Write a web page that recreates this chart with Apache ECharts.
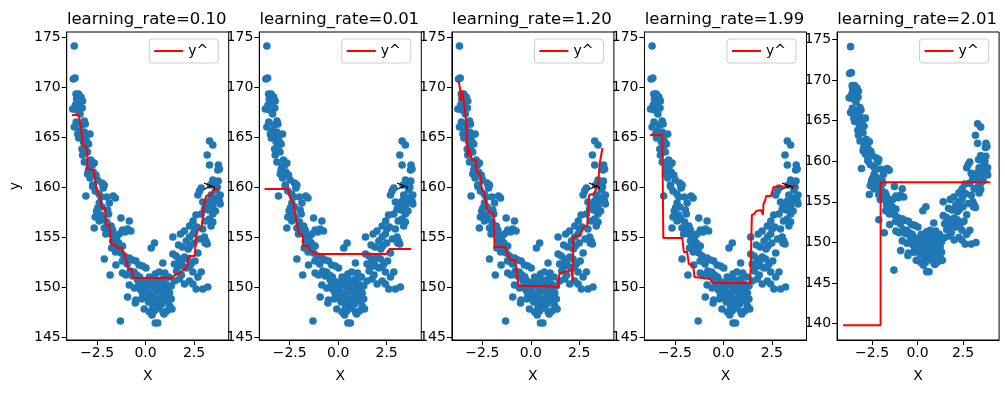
<!DOCTYPE html>
<html>
<head>
<meta charset="utf-8">
<script src="https://cdn.jsdelivr.net/npm/echarts@6/dist/echarts.min.js"></script>
<style>html,body{margin:0;padding:0;background:#fff}#c{width:1005px;height:393px}</style>
</head>
<body>
<div id="c"></div>
<script>
// ---- data ----
const pointX = [-3.68,-3.73,-3.64,-3.59,-3.46,-3.56,-3.33,-3.25,-3.42,-3.50,-3.76,-3.27,-3.55,-3.68,-3.16,-3.11,-3.50,-3.33,-3.16,-3.04,-2.87,-3.42,-3.28,-3.11,-3.20,-3.05,-2.94,-3.16,-2.82,-2.65,-2.75,-2.99,-2.87,-2.56,-2.48,-2.95,-2.73,-2.25,-2.18,-2.13,-3.08,-2.73,-2.18,-2.0,-1.67,-1.56,-1.87,-2.39,-2.47,-2.53,-2.25,-1.96,-1.91,-2.39,-2.65,-2.13,-1.78,-1.27,-0.84,-0.93,-0.76,-1.19,-1.36,-1.05,-1.62,-1.50,-1.70,-1.39,-1.19,-1.60,-1.44,-1.27,-1.75,-1.55,-2.13,-1.53,-1.83,-1.1,-0.84,-0.67,-0.5,-0.33,-0.15,0.02,-1.19,-1.02,-0.67,-0.41,-0.19,-0.07,0.10,-0.84,-0.58,-0.93,-0.50,-0.53,0.02,0.10,-0.07,-1.30,3.30,3.47,3.18,3.30,3.76,3.73,3.81,3.47,3.55,3.62,2.78,2.87,2.70,3.64,3.73,3.38,3.55,3.81,3.85,2.95,3.12,3.47,3.04,2.87,3.47,3.30,3.47,3.38,2.95,2.27,2.52,2.44,2.27,3.04,3.12,3.18,3.07,1.80,1.41,0.29,0.46,0.89,1.41,1.58,1.75,1.84,2.01,2.18,1.49,1.66,1.92,2.35,2.44,2.87,2.70,1.75,2.01,2.27,2.44,2.61,2.95,3.21,0.89,1.06,1.15,1.32,1.49,0.12,0.29,0.46,0.63,0.81,0.98,1.15,1.32,1.24,1.06,0.72,0.55,0.38,0.26,0.33,0.50,0.63,1.24,1.36,0.2,0.4,0.6,0.8,0.5,0.9,0.7,0.9,1.1,0.0,0.4,0.2,1.9,2.1,2.2,2.0,1.7,2.3,2.45,2.6,3.6,3.85,3.3,3.7,
  -2.6,-2.3,-2.2,-2.0,-1.9,-1.8,-1.7,-2.05,-1.65,-1.35,-1.2,-0.95,-0.8,-0.6,-0.45,-0.3,-0.25,-0.35,-0.15,-0.2,
  0.15,0.35,0.6,0.85,1.0,0.75,0.55,1.2,1.0,0.7,0.95,0.45,
  1.6,1.85,2.1,2.25,2.55,2.7,2.5,2.8,2.65,3.1,3.25,3.6,3.35,3.75,
  -3.62,-3.38,-3.58,-3.3,-3.45,-3.25,-3.0,-2.9,-2.7,-2.6,-2.4,-2.3];
const pointY = [174.1,170.8,170.9,169.3,169.3,168.8,169.0,168.6,168.5,169.1,167.8,167.9,167.7,166.0,166.6,166.3,165.3,165.1,165.5,165.2,165.3,165.6,163.8,164.0,164.5,164.6,164.3,162.5,162.7,162.4,162.2,161.3,160.9,161.2,160.7,161.7,160.2,160.4,160.0,160.2,159.1,160.06,159.9,159.0,159.1,158.9,158.4,158.4,157.9,157.6,158.0,157.7,157.3,156.6,155.9,155.9,156.1,156.9,156.6,155.8,155.6,155.7,155.3,155.5,155.1,154.9,154.6,154.4,154.1,154.3,153.7,153.4,153.9,153.5,152.8,152.2,151.2,153.1,152.9,152.7,152.6,152.2,152.1,151.9,151.4,151.2,151.1,150.7,150.6,150.2,150.1,150.2,149.9,149.0,148.7,148.4,149.7,148.9,147.8,146.6,164.6,164.2,163.2,162.2,162.2,161.7,161.8,160.7,160.5,160.2,159.6,159.9,159.2,159.7,158.9,159.2,158.6,158.6,159.2,158.5,158.1,158.1,157.8,157.3,157.3,156.8,156.5,156.1,155.8,156.1,155.8,155.3,155.0,155.0,154.6,154.3,154.4,155.3,155.0,153.9,154.4,152.4,153.3,153.1,152.8,152.5,153.0,152.8,152.3,152.0,152.1,152.3,151.5,151.5,151.0,150.8,150.3,150.6,150.3,149.8,149.8,150.0,150.8,150.3,150.0,150.1,150.6,150.5,150.2,149.9,149.6,149.2,148.9,148.6,148.8,149.4,149.2,148.8,148.3,148.0,149.4,147.2,146.4,146.4,148.1,147.8,151.0,150.9,150.4,150.2,151.3,149.8,147.9,147.5,147.6,149.0,149.2,147.5,154.0,154.6,153.8,155.6,154.2,154.1,156.6,157.2,157.6,158.3,158.6,160.0,
  157.0,157.2,156.8,156.5,155.8,155.3,155.7,155.3,153.9,153.9,152.6,152.3,151.6,151.5,151.2,151.0,149.7,150.2,149.3,148.8,
  148.5,148.6,148.7,148.3,149.6,150.6,150.7,151.0,151.4,151.5,147.3,147.6,
  151.6,151.2,151.9,152.0,152.6,153.4,154.4,154.8,156.0,156.6,157.7,158.9,160.2,160.6,
  168.2,167.3,166.5,166.2,164.9,163.2,163.5,162.0,161.5,159.6,159.3,159.0];

const titles = ['learning_rate=0.10','learning_rate=0.01','learning_rate=1.20','learning_rate=1.99','learning_rate=2.01'];

const line010X = [-3.80,-3.45,-3.32,-3.29,-3.24,-3.06,-3.0,-3.0,-2.69,-2.60,-2.48,-2.35,-2.26,-2.09,-2.04,-1.87,-1.75,-1.52,-1.46,-1.23,-1.06,-0.89,-0.72,-0.63,1.34,1.51,1.76,2.02,2.16,2.19,2.53,2.62,2.71,2.88,2.96,3.0,3.13,3.39,3.48,3.78];
const line010Y = [167.2,167.2,165.9,165.1,164.1,164.1,163.1,161.8,161.7,160.7,159.4,159.2,157.9,157.9,156.2,156.2,154.2,154.2,153.9,153.9,153.1,151.8,151.8,150.9,150.9,151.2,151.4,151.8,152.1,153.1,153.1,155.2,155.7,155.9,157.1,158.1,159.1,159.2,159.7,159.8];

const line001X = [-3.80,-2.57,-2.48,-2.31,-2.23,-2.14,-2.0,-1.83,-1.80,-1.54,-1.46,-1.11,2.48,2.65,3.77];
const line001Y = [159.8,159.8,158.9,158.4,157.4,156.4,155.3,155.2,154.1,154.1,153.6,153.3,153.3,153.8,153.8];

const line120X = [-3.72,-3.63,-3.60,-3.54,-3.49,-3.42,-3.32,-3.25,-3.20,-3.12,-3.03,-2.86,-2.77,-2.60,-2.52,-2.40,-2.26,-2.18,-1.92,-1.87,-1.32,-1.23,-1.06,-0.80,-0.63,0.63,0.72,1.42,1.47,1.68,1.93,2.10,2.16,2.19,2.36,2.57,2.71,2.91,3.01,3.22,3.36,3.48,3.56,3.70];
const line120Y = [170.6,169.6,168.6,169.6,169.1,168.1,166.1,163.1,163.9,163.4,162.7,162.7,161.4,161.3,159.7,159.4,157.9,157.5,157.4,154.0,154.0,153.4,152.7,152.7,150.1,150.1,150.0,150.0,151.3,151.5,151.6,151.7,150.6,155.0,155.1,155.2,156.0,156.1,159.2,159.3,159.7,160.4,162.4,163.9];

const line199X = [-3.78,-3.15,-3.10,-2.12,-2.04,-1.87,-1.78,-1.56,-1.49,-0.67,-0.58,1.39,1.47,1.59,1.70,1.94,1.99,2.04,2.07,2.16,2.21,2.45,2.59,2.67,3.75];
const line199Y = [165.2,165.2,154.9,154.9,153.5,153.5,152.3,152.2,151.0,150.8,150.4,150.4,157.2,157.3,157.6,157.7,157.9,157.2,158.3,158.7,159.1,159.1,160.0,160.1,160.1];

const line201X = [-4.09,-2.03,-2.03,4.0];
const line201Y = [139.8,139.8,157.4,157.4];

const yTicksMain = [145,150,155,160,165,170,175];
const yTicksLast = [140,145,150,155,160,165,170,175];
const xTicks = [-2.5,0,2.5];

// ---- build chart ----
const lines = [[line010X,line010Y],[line001X,line001Y],[line120X,line120Y],[line199X,line199Y],[line201X,line201Y]];
const FONT = 'DejaVu Sans';
const gridLeft0 = 66.7, gridStep = 192.6, gridW = 162, gridTop = 32, gridH = 308;
const points = pointX.map((x,i)=>[x,pointY[i]]);
const fmtX = v => (v<0?'\u2212':'') + Math.abs(v).toFixed(1);

const grid=[], xAxis=[], yAxis=[], series=[], title=[], legend=[];
for (let i=0;i<5;i++){
  const left = gridLeft0 + gridStep*i;
  const last = i===4;
  grid.push({left:left, top:gridTop, width:gridW, height:gridH, show:true, borderColor:'#000', borderWidth:1, backgroundColor:'transparent'});
  xAxis.push({type:'value', gridIndex:i, min: last?-4.42:-4.07, max: last?4.48:4.29,
    name:'X', nameLocation:'middle', nameGap:29, nameTextStyle:{fontFamily:FONT,fontSize:14,color:'#000'},
    axisLine:{show:true,onZero:false,lineStyle:{color:'#000',width:1}},
    axisTick:{show:true,length:5,lineStyle:{color:'#000'},customValues:xTicks},
    axisLabel:{color:'#000',fontFamily:FONT,fontSize:14,margin:6,customValues:xTicks,formatter:fmtX},
    splitLine:{show:false}});
  const yt = last?yTicksLast:yTicksMain;
  yAxis.push({type:'value', gridIndex:i, min: last?138.0:144.7, max: last?175.9:175.5, z:10,
    name:'y', nameLocation:'middle', nameGap:44, nameTextStyle:{fontFamily:FONT,fontSize:14,color:'#000'},
    axisLine:{show:true,onZero:false,lineStyle:{color:'#000',width:1}},
    axisTick:{show:true,length:5,lineStyle:{color:'#000'},customValues:yt},
    axisLabel:{color:'#000',fontFamily:FONT,fontSize:14,margin:6,customValues:yt},
    splitLine:{show:false}});
  series.push({type:'scatter', name:'pts'+i, xAxisIndex:i, yAxisIndex:i, data:points, symbolSize:7.6,
    itemStyle:{color:'#1f77b4',opacity:1}, z:2, silent:true});
  const [lx,ly] = lines[i];
  series.push({type:'line', name:'y^', xAxisIndex:i, yAxisIndex:i, data:lx.map((x,k)=>[x,ly[k]]),
    showSymbol:false, symbol:'none', lineStyle:{color:'red',width:2}, itemStyle:{color:'red'}, z:3, silent:true, animation:false});
  title.push({text:titles[i], left:left+gridW/2-6, top:6, textAlign:'center',
    textStyle:{fontFamily:FONT,fontSize:16.5,fontWeight:'normal',color:'#000'}});
  legend.push({data:['y^'], left:left+82.5, top:39, orient:'horizontal', icon:'rect', itemWidth:29, itemHeight:2,
    padding:[5,10,5,5], backgroundColor:'rgba(255,255,255,0.8)', borderColor:'#cccccc', borderWidth:1, borderRadius:3,
    textStyle:{fontFamily:FONT,fontSize:14,color:'#000'}, selectedMode:false});
}

const chart = echarts.init(document.getElementById('c'), null, {renderer:'canvas'});
chart.setOption({backgroundColor:'#fff', animation:false, title, legend, grid, xAxis, yAxis, series});
</script>
</body>
</html>
